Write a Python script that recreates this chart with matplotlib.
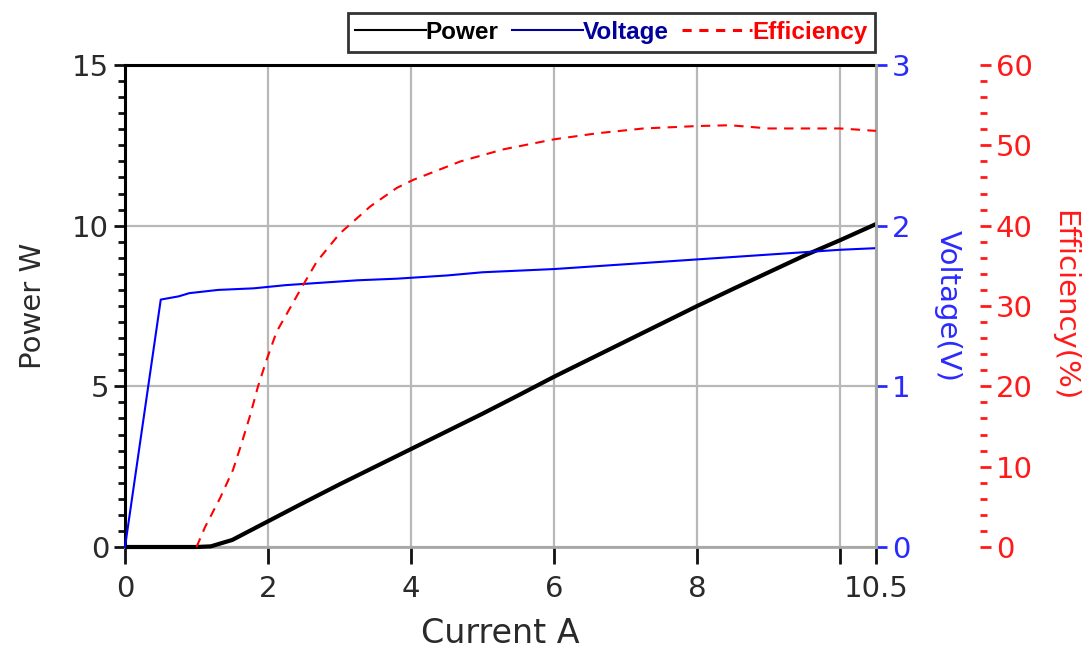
import matplotlib
matplotlib.use("Agg")
import matplotlib.pyplot as plt
from matplotlib.lines import Line2D

# ---- data ----
current_p = [0, 0.5, 1.0, 1.2, 1.5, 2.0, 2.5, 3.0, 3.5, 4.0, 4.5, 5.0, 5.5, 6.0,
             6.5, 7.0, 7.5, 8.0, 8.5, 9.0, 9.5, 10.0, 10.5]
power = [0, 0, 0, 0.02, 0.22, 0.8, 1.38, 1.95, 2.5, 3.05, 3.6, 4.15, 4.72, 5.3,
         5.85, 6.4, 6.95, 7.5, 8.03, 8.55, 9.07, 9.55, 10.05]

current_v = [0, 0.5, 0.75, 0.9, 1.3, 1.8, 2.25, 2.75, 3.25, 3.8, 4.5, 5.0, 6.0,
             7.0, 8.0, 9.0, 10.0, 10.5]
voltage = [0, 1.54, 1.56, 1.58, 1.60, 1.61, 1.63, 1.645, 1.66, 1.67, 1.69, 1.71,
           1.73, 1.76, 1.79, 1.82, 1.85, 1.86]

current_e = [1.0, 1.12, 1.33, 1.51, 1.63, 1.75, 1.86, 1.98, 2.12, 2.33, 2.45, 2.68,
             3.0, 3.43, 3.8, 4.03, 4.69, 5.29, 6.0, 6.6, 7.25, 8.0, 8.46, 9.0,
             10.0, 10.5]
efficiency = [0, 2.5, 6.1, 9.6, 12.9, 16.4, 20, 23.3, 26.8, 30.1, 32, 35.5, 39,
              42.4, 44.7, 45.7, 48, 49.5, 50.75, 51.5, 52.1, 52.4, 52.5, 52.1,
              52.1, 51.8]

x_ticks = [0, 2, 4, 6, 8, 10, 10.5]
x_ticklabels = ["0", "2", "4", "6", "8", "", "10.5"]
p_ticks = [0, 5, 10, 15]
v_ticks = [0, 1, 2, 3]
e_ticks = [0, 10, 20, 30, 40, 50, 60]

# ---- figure ----
W, H = 1090, 651
fig = plt.figure(figsize=(W / 100, H / 100), dpi=100)
L, R, T, B = 125, 876, 65, 547
ax = fig.add_axes([L / W, 1 - B / H, (R - L) / W, (B - T) / H])

grid_c = "#b8b8b8"
dark = "#2a2a2a"
blue = "#2a2aff"
red = "#ff1a1a"

ax.set_xlim(0, 10.5)
ax.set_ylim(0, 15)
ax.set_xticks(x_ticks)
ax.set_xticklabels(x_ticklabels)
ax.set_yticks(p_ticks)
ax.set_yticks([i * 0.5 for i in range(31)], minor=True)
ax.grid(True, which="major", color=grid_c, lw=1.6)
ax.set_axisbelow(True)

ax.tick_params(axis="both", which="major", labelsize=21, colors="#111111",
               length=8, width=2, labelcolor=dark)
ax.tick_params(axis="y", which="minor", length=5, width=2, colors="#111111")
ax.tick_params(axis="x", which="major", length=12, pad=8)
ax.set_xlabel("Current A", fontsize=24, color=dark, labelpad=10)
ax.set_ylabel("Power W", fontsize=21, color=dark, labelpad=18)

for s in ["top", "left"]:
    ax.spines[s].set_color("black")
    ax.spines[s].set_linewidth(2.2)
for s in ["bottom", "right"]:
    ax.spines[s].set_color("#a8a8a8")
    ax.spines[s].set_linewidth(2.0)

# voltage axis
axv = ax.twinx()
axv.set_ylim(0, 3)
axv.set_yticks(v_ticks)
axv.tick_params(axis="y", which="major", colors=blue, labelsize=21, length=8,
                width=2, labelcolor=blue)
axv.spines["right"].set_color("#a8a8a8")
axv.spines["right"].set_linewidth(2.0)
for s in ["top", "left", "bottom"]:
    axv.spines[s].set_visible(False)
axv.set_ylabel("Voltage(V)", fontsize=21, color=blue, rotation=270,
               va="center", ha="center")
axv.yaxis.set_label_coords((948 - L) / (R - L), 0.5)

# efficiency axis
axe = ax.twinx()
axe.set_ylim(0, 60)
axe.spines["right"].set_position(("axes", (980 - L) / (R - L)))
for s in ["top", "left", "bottom", "right"]:
    axe.spines[s].set_visible(False)
axe.set_yticks(e_ticks)
axe.set_yticks(list(range(0, 61, 2)), minor=True)
axe.tick_params(axis="y", which="major", colors=red, labelsize=21, length=8,
                width=2, labelcolor=red)
axe.tick_params(axis="y", which="minor", colors=red, length=5, width=2)
axe.set_ylabel("Efficiency(%)", fontsize=21, color=red, rotation=270,
               va="center", ha="center")
axe.yaxis.set_label_coords((1064 - L) / (R - L), 0.5)

# lines
ax.plot(current_p, power, color="black", lw=3.0, zorder=5, clip_on=False,
        solid_capstyle="butt")
axv.plot(current_v, voltage, color="#0000ff", lw=1.5, clip_on=False)
axe.plot(current_e, efficiency, color="#ff0000", lw=1.5, dashes=(4.5, 3.5),
         clip_on=False)

# legend
handles = [Line2D([], [], color="black", lw=1.5),
           Line2D([], [], color="#00009c", lw=1.5),
           Line2D([], [], color="#ff0000", lw=2.2, dashes=(3, 2.5))]
labels = ["Power", "Voltage", "Efficiency"]
leg = fig.legend(handles, labels, loc="upper center", ncol=3,
                 bbox_to_anchor=((343 + 880) / 2 / W, 1 - 13 / H),
                 frameon=True, fancybox=False, handlelength=2.9,
                 handletextpad=0.0, columnspacing=0.55, borderpad=0.32,
                 borderaxespad=0, prop={"family": "Liberation Sans",
                                        "weight": "bold", "size": 17.5})
leg.get_frame().set_edgecolor("black")
leg.get_frame().set_linewidth(2)
for t, c in zip(leg.get_texts(), ["black", "#00009c", "#ff0000"]):
    t.set_color(c)

fig.savefig("out.png", dpi=100)
